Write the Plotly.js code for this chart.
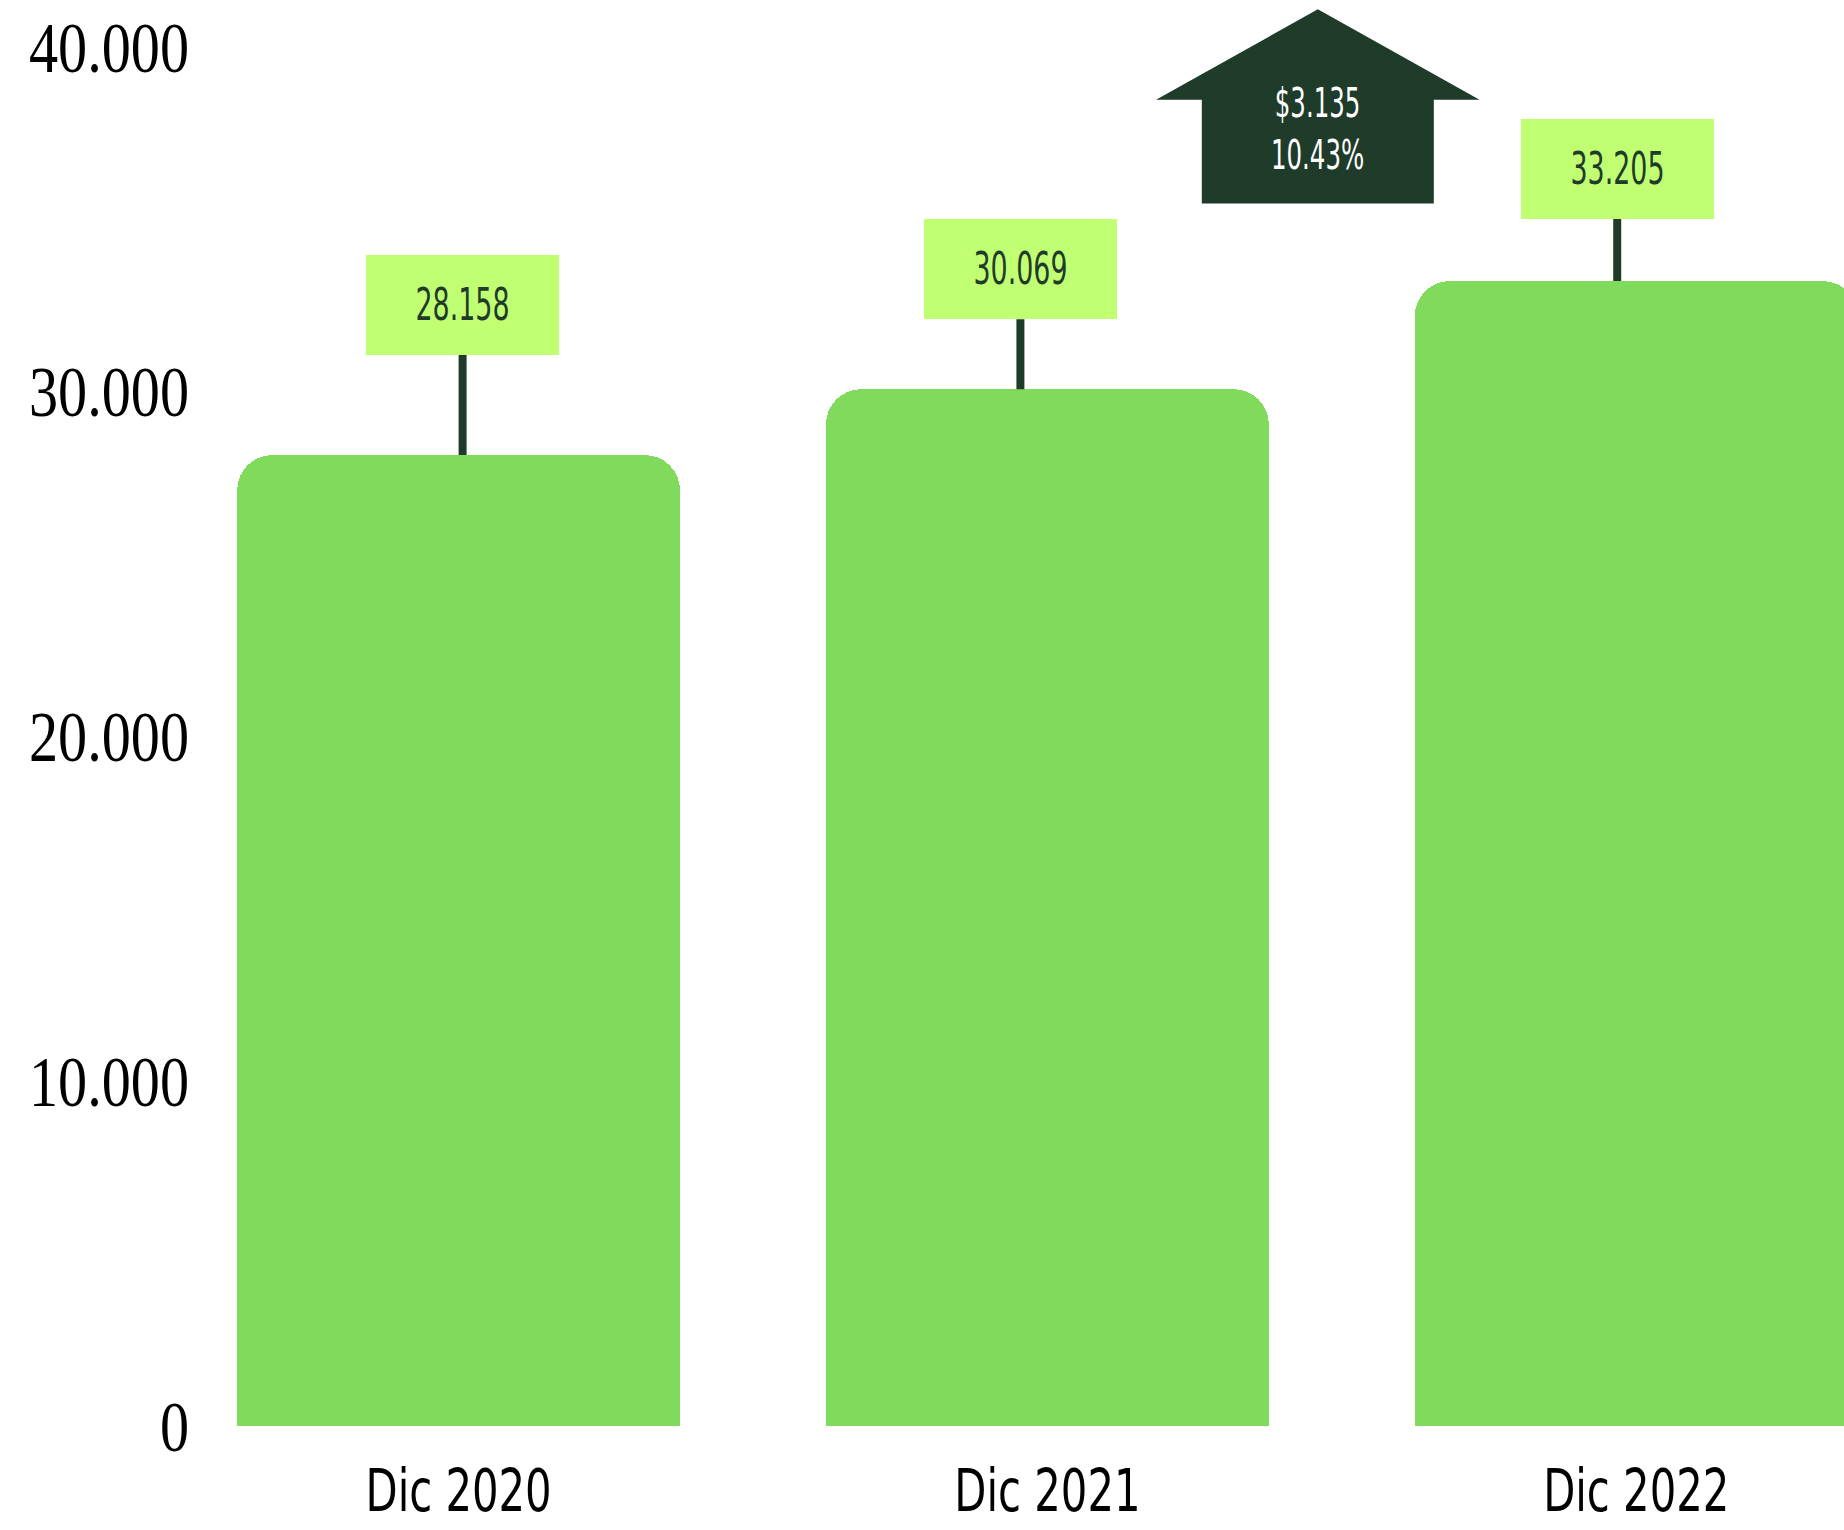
<!DOCTYPE html>
<html>
<head>
<meta charset="utf-8">
<script src="https://cdn.plot.ly/plotly-3.0.1.min.js"></script>
<style>
  html, body { margin: 0; padding: 0; background: #ffffff; }
  #chart { width: 1844px; height: 1530px; }
</style>
</head>
<body>
<div id="chart"></div>
<script>
// ---- data ----
var categories = ['Dic 2020', 'Dic 2021', 'Dic 2022'];
var values = [28158, 30069, 33205];
var valueLabels = ['28.158', '30.069', '33.205'];
var yTickVals = [0, 10000, 20000, 30000, 40000];
var yTickText = ['0', '10.000', '20.000', '30.000', '40.000'];
var changeAmount = '$3.135';
var changePercent = '10.43%';

// ---- styles ----
var BAR_COLOR = '#80DA5B';
var BOX_COLOR = '#C1FF72';
var DARK = '#1F3B2A';
var labelXShift = [4, -27, -19];
var labelYOffset = [-150, -120, -112];
var ARROW_DX = -24;
var SANS = '"Liberation Sans Narrow", "DejaVu Sans Condensed", "DejaVu Sans", sans-serif';

var trace = {
  type: 'bar',
  x: [0, 1, 2],
  y: values,
  width: 0.752,
  marker: { color: BAR_COLOR, cornerradius: 35, line: { width: 0 } },
  hoverinfo: 'skip',
  showlegend: false
};

var annotations = values.map(function (v, i) {
  return {
    x: i, y: v, xref: 'x', yref: 'y',
    text: valueLabels[i],
    showarrow: true, arrowhead: 0, arrowwidth: 8, arrowcolor: DARK,
    standoff: 0, startstandoff: 0,
    ax: 0, ay: labelYOffset[i],
    xshift: labelXShift[i],
    bgcolor: BOX_COLOR, borderwidth: 0, borderpad: 0,
    width: 193, height: 100,
    font: { family: SANS, size: 44, color: DARK },
    align: 'center', valign: 'middle'
  };
});

annotations.push({
  x: 1.5, xref: 'x', y: 1, yref: 'paper',
  xanchor: 'center', yanchor: 'middle',
  xshift: ARROW_DX, yshift: -129,
  text: changeAmount + '<br>' + changePercent,
  showarrow: false,
  font: { family: SANS, size: 40, color: '#ffffff' },
  align: 'center'
});

var arrowPath = 'M' + (ARROW_DX) + ',37.5 L' + (ARROW_DX + 161.75) + ',-53 L' + (ARROW_DX + 116) + ',-53 L' +
  (ARROW_DX + 116) + ',-156.7 L' + (ARROW_DX - 116) + ',-156.7 L' + (ARROW_DX - 116) + ',-53 L' +
  (ARROW_DX - 161.75) + ',-53 Z';

var layout = {
  width: 1844, height: 1530,
  margin: { l: 200, r: 0, t: 0, b: 104, pad: 0 },
  paper_bgcolor: '#ffffff', plot_bgcolor: '#ffffff',
  bargap: 0,
  xaxis: {
    range: [-0.4392, 2.3529],
    tickvals: [0, 1, 2], ticktext: categories,
    showgrid: false, zeroline: false, showline: false, ticks: '',
    tickfont: { family: SANS, size: 58, color: '#000000' },
    ticklabelstandoff: 26,
    fixedrange: true
  },
  yaxis: {
    range: [0, 41357],
    tickvals: yTickVals, ticktext: yTickText,
    showgrid: false, zeroline: false, showline: false, ticks: '',
    tickfont: { family: '"Liberation Serif", "Times New Roman", serif', size: 71, color: '#000000' },
    ticklabelstandoff: 10,
    fixedrange: true
  },
  shapes: [{
    type: 'path', xref: 'x', yref: 'y',
    xsizemode: 'pixel', ysizemode: 'pixel',
    xanchor: 1.5, yanchor: 40000,
    path: arrowPath,
    fillcolor: DARK, line: { width: 0 }, layer: 'above'
  }],
  annotations: annotations
};

function condense(selector, s, anchor) {
  document.querySelectorAll(selector).forEach(function (t) {
    var b = t.getBBox();
    var cx = anchor === 'right' ? b.x + b.width : b.x + b.width / 2;
    var tr = t.getAttribute('transform') || '';
    t.setAttribute('transform', tr + ' translate(' + cx + ',0) scale(' + s + ',1) translate(' + (-cx) + ',0)');
  });
}

Plotly.newPlot('chart', [trace], layout, { displayModeBar: false, staticPlot: true }).then(function () {
  condense('.ytick text', 0.82, 'right');
  condense('.xtick text', 0.8, 'center');
  condense('.annotation-text', 0.68, 'center');
});
</script>
</body>
</html>
